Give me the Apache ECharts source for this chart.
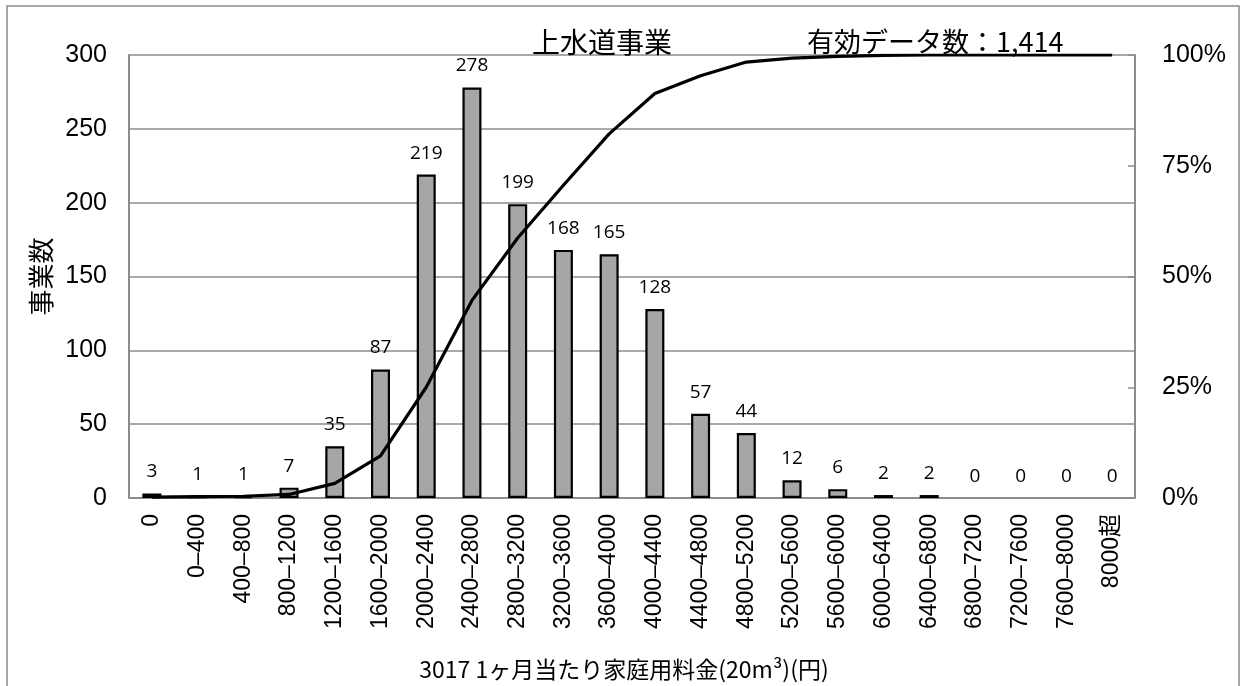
<!DOCTYPE html>
<html>
<head>
<meta charset="utf-8">
<script src="https://cdn.jsdelivr.net/npm/echarts@6/dist/echarts.min.js"></script>
<style>
  html, body { margin: 0; padding: 0; background: #ffffff; }
  #chart { width: 1248px; height: 686px; }
</style>
</head>
<body>
<div id="chart"></div>
<script>
// Price bands for the monthly household water charge (20 m3, yen)
const categories = [
  '0', '0–400', '400–800', '800–1200', '1200–1600', '1600–2000',
  '2000–2400', '2400–2800', '2800–3200', '3200–3600', '3600–4000',
  '4000–4400', '4400–4800', '4800–5200', '5200–5600', '5600–6000',
  '6000–6400', '6400–6800', '6800–7200', '7200–7600', '7600–8000', '8000超'
];

// Number of utilities in each band
const counts = [3, 1, 1, 7, 35, 87, 219, 278, 199, 168, 165, 128, 57, 44, 12, 6, 2, 2, 0, 0, 0, 0];

// Cumulative share of utilities (%)
const cumulativePct = [0.2, 0.3, 0.4, 0.8, 3.3, 9.5, 25.0, 44.6, 58.7, 70.6, 82.2, 91.3,
  95.3, 98.4, 99.3, 99.7, 99.9, 100, 100, 100, 100, 100];

const chartTitle = '上水道事業';
const sampleNote = '有効データ数：1,414';
const yAxisName = '事業数';
const xAxisName = '3017 1ヶ月当たり家庭用料金(20m³)(円)';

const GRAY = '#8c8c8c';
const LATIN = '"Liberation Sans", Arial, "Noto Sans CJK JP", sans-serif';
const CJK = '"Noto Sans CJK JP", "Noto Sans", sans-serif';

const chart = echarts.init(document.getElementById('chart'), null, { renderer: 'canvas' });

// zero-height bars get no outline so only their label remains
const barData = counts.map(v => v === 0 ? { value: v, itemStyle: { borderWidth: 0 } } : v);

chart.setOption({
  backgroundColor: '#ffffff',
  animation: false,
  title: [
    {
      text: chartTitle,
      left: 597, top: 23, textAlign: 'center',
      textStyle: { fontFamily: CJK, fontSize: 28, fontWeight: 'normal', color: '#000' }
    },
    {
      text: sampleNote,
      left: 802, top: 23,
      textStyle: { fontFamily: CJK, fontSize: 27, fontWeight: 'normal', color: '#000' }
    }
  ],
  graphic: [{
    type: 'rect',
    shape: { x: 7, y: 6, width: 1232, height: 720 },
    style: { fill: 'none', stroke: GRAY, lineWidth: 1.5 },
    silent: true, z: -1
  }],
  grid: { left: 129, right: 113, top: 55, bottom: 188, containLabel: false },
  xAxis: {
    type: 'category',
    data: categories,
    name: xAxisName,
    nameLocation: 'middle',
    nameGap: 160,
    nameTextStyle: { fontFamily: CJK, fontSize: 23, color: '#000', padding: [0, 16, 0, 0] },
    axisLine: { lineStyle: { color: GRAY, width: 2 } },
    axisTick: { show: false },
    axisLabel: {
      rotate: 90, interval: 0, margin: 16,
      fontFamily: LATIN, fontSize: 23, color: '#000'
    }
  },
  yAxis: [
    {
      type: 'value', min: 0, max: 300, interval: 50,
      name: yAxisName,
      nameLocation: 'middle',
      nameGap: 62,
      nameRotate: 90,
      nameTextStyle: { fontFamily: CJK, fontSize: 26, color: '#000' },
      axisLine: { show: true, lineStyle: { color: GRAY, width: 2 } },
      axisTick: { show: false },
      axisLabel: { margin: 22, fontFamily: LATIN, fontSize: 25, color: '#000' },
      splitLine: { show: true, lineStyle: { color: GRAY, width: 1.5 } }
    },
    {
      type: 'value', min: 0, max: 100, interval: 25,
      position: 'right',
      axisLine: { show: true, lineStyle: { color: GRAY, width: 2 } },
      axisTick: { show: true, inside: true, length: 7, lineStyle: { color: GRAY, width: 1.5 } },
      axisLabel: { margin: 27, fontFamily: LATIN, fontSize: 25, color: '#000', formatter: '{value}%' },
      splitLine: { show: false }
    }
  ],
  series: [
    {
      name: yAxisName,
      type: 'bar',
      data: barData,
      barWidth: 19,
      itemStyle: { color: '#a6a6a6', borderColor: '#000', borderWidth: 2.2 },
      label: {
        show: true, position: 'top', distance: 12,
        fontFamily: '"Open Sans", "Noto Sans", sans-serif', fontSize: 19, color: '#000'
      },
      z: 2
    },
    {
      name: '累積',
      type: 'line',
      yAxisIndex: 1,
      data: cumulativePct,
      showSymbol: false,
      symbol: 'none',
      smooth: false,
      lineStyle: { color: '#000', width: 3.2 },
      z: 3
    }
  ]
});
</script>
</body>
</html>
